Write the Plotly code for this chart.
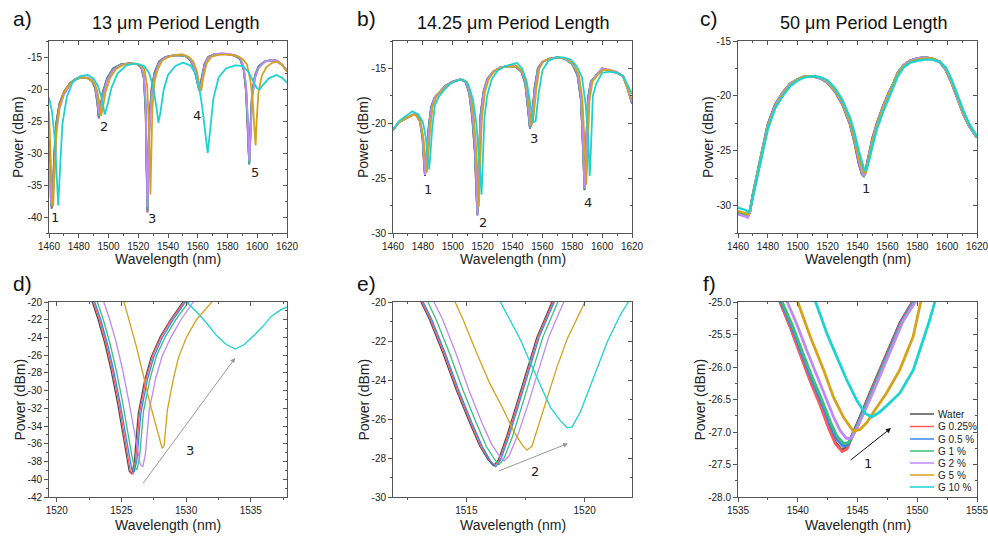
import plotly.graph_objects as go

# ---------------- series names / colours ----------------
SERIES = ["Water", "G 0.25%", "G 0.5 %", "G 1 %", "G 2 %", "G 5 %", "G 10 %"]
COLORS = ["#505050", "#ff5a5a", "#3d85f0", "#3cbf78", "#c08af5", "#d6a21c", "#1ed2d2"]

# ---------------- panel a : 13 um period ----------------
A_WL = [1460, 1461, 1461.8, 1462.6, 1463.5,
        1465, 1467, 1470, 1474, 1478,
        1482, 1486, 1489, 1491, 1492.5,
        1493.5, 1494.5, 1496, 1499, 1503,
        1508, 1514, 1519, 1522, 1523.8,
        1525, 1525.7, 1526.2, 1526.7, 1527.5,
        1529, 1531, 1534, 1538, 1543,
        1548, 1552, 1555, 1557.5, 1559.5,
        1561, 1562.5, 1564.5, 1567, 1571,
        1576, 1581, 1585, 1588.5, 1590.8,
        1592.5, 1593.7, 1594.6, 1595.5, 1596.5,
        1598.5, 1601, 1605, 1609, 1613,
        1617, 1620]
A_WATER = [-28.0, -35.0, -38.7, -36.0, -30.0,
           -25.0, -22.3, -20.4, -19.1, -18.4,
           -18.2, -18.3, -18.8, -19.9, -22.2,
           -24.6, -23.0, -20.6, -18.3, -16.8,
           -16.2, -16.0, -16.1, -16.6, -18.4,
           -24.0, -33.5, -39.3, -32.0, -24.5,
           -19.8, -17.4, -15.7, -15.0, -14.8,
           -14.7, -14.9, -15.5, -16.7, -18.9,
           -20.2, -18.4, -16.1, -15.0, -14.6,
           -14.5, -14.6, -14.8, -15.3, -16.9,
           -20.5, -27.0, -31.8, -25.5, -20.6,
           -17.8, -16.4, -15.7, -15.5, -15.6,
           -16.3, -17.2]
A_G025 = [-29.0, -35.5, -38.5, -36.3, -30.5,
          -25.3, -22.5, -20.5, -19.2, -18.4,
          -18.2, -18.3, -18.8, -19.8, -22.0,
          -24.5, -23.2, -20.8, -18.4, -16.9,
          -16.2, -16.0, -16.1, -16.6, -18.3,
          -23.6, -33.0, -39.2, -32.5, -24.8,
          -20.0, -17.5, -15.8, -15.0, -14.8,
          -14.7, -14.9, -15.5, -16.6, -18.8,
          -20.2, -18.6, -16.2, -15.0, -14.6,
          -14.5, -14.6, -14.8, -15.3, -16.8,
          -20.3, -26.6, -31.6, -26.0, -20.8,
          -17.9, -16.5, -15.7, -15.5, -15.6,
          -16.3, -17.2]
A_G05 = [-29.5, -35.8, -38.4, -36.6, -31.0,
         -25.6, -22.6, -20.6, -19.2, -18.4,
         -18.2, -18.3, -18.7, -19.7, -21.8,
         -24.4, -23.4, -21.0, -18.5, -16.9,
         -16.2, -16.0, -16.1, -16.5, -18.2,
         -23.2, -32.5, -39.0, -33.0, -25.2,
         -20.2, -17.6, -15.8, -15.0, -14.8,
         -14.7, -14.9, -15.5, -16.6, -18.7,
         -20.2, -18.7, -16.3, -15.1, -14.6,
         -14.5, -14.6, -14.8, -15.3, -16.7,
         -20.1, -26.2, -31.7, -26.4, -21.0,
         -18.0, -16.5, -15.7, -15.5, -15.6,
         -16.3, -17.2]
A_G1 = [-30.5, -36.3, -38.3, -37.0, -31.8,
        -26.0, -22.8, -20.7, -19.3, -18.5,
        -18.2, -18.3, -18.7, -19.6, -21.6,
        -24.2, -23.6, -21.2, -18.6, -17.0,
        -16.2, -16.0, -16.1, -16.5, -18.0,
        -22.8, -31.8, -38.8, -33.8, -25.8,
        -20.5, -17.8, -15.9, -15.1, -14.8,
        -14.7, -14.9, -15.4, -16.5, -18.6,
        -20.2, -18.9, -16.4, -15.1, -14.6,
        -14.5, -14.6, -14.8, -15.2, -16.6,
        -19.8, -25.6, -31.6, -27.0, -21.3,
        -18.1, -16.6, -15.7, -15.5, -15.6,
        -16.3, -17.2]
A_G2 = [-31.5, -36.8, -38.0, -37.5, -33.0,
        -26.8, -23.2, -20.9, -19.4, -18.5,
        -18.2, -18.2, -18.6, -19.4, -21.2,
        -23.8, -24.0, -21.6, -18.8, -17.1,
        -16.3, -16.0, -16.1, -16.4, -17.8,
        -22.0, -30.5, -38.4, -35.0, -27.0,
        -21.0, -18.1, -16.0, -15.1, -14.8,
        -14.6, -14.8, -15.3, -16.4, -18.4,
        -20.1, -19.2, -16.6, -15.2, -14.6,
        -14.4, -14.5, -14.7, -15.1, -16.4,
        -19.4, -24.8, -31.2, -27.8, -21.8,
        -18.3, -16.7, -15.8, -15.5, -15.5,
        -16.2, -17.2]
A_WL_G5 = [1460, 1461, 1462, 1462.8, 1463.7,
           1465, 1467, 1470, 1474, 1478,
           1482, 1486, 1490, 1492.5, 1494,
           1495, 1496, 1498, 1501, 1505,
           1510, 1516, 1521, 1524, 1526,
           1527.3, 1528.2, 1528.7, 1529.5, 1531,
           1533, 1536, 1540, 1545, 1550,
           1554, 1557, 1559.5, 1561, 1562.3,
           1563.7, 1566, 1569, 1573, 1578,
           1583, 1587, 1590.5, 1593, 1595.5,
           1597, 1598.2, 1598.9, 1599.6, 1600.8,
           1603, 1606, 1610, 1614, 1617,
           1620]
A_G5 = [-23.5, -30.0, -36.5, -38.3, -33.0,
        -26.5, -22.8, -20.5, -19.2, -18.5,
        -18.2, -18.3, -18.9, -20.3, -22.5,
        -24.2, -23.2, -20.5, -18.3, -16.9,
        -16.2, -16.0, -16.2, -16.8, -19.5,
        -27.0, -36.5, -30.0, -23.0, -18.8,
        -17.0, -15.6, -15.0, -14.7, -14.6,
        -15.0, -15.7, -17.3, -19.3, -20.3,
        -18.3, -16.0, -15.0, -14.7, -14.6,
        -14.7, -14.9, -15.4, -16.1, -18.8,
        -22.0, -26.5, -28.8, -25.0, -20.5,
        -18.0, -16.6, -15.9, -15.7, -16.3,
        -17.3]
A_WL_G10 = [1460, 1462, 1464, 1465.2, 1466.2,
            1467.3, 1469, 1472, 1476, 1481,
            1486, 1490, 1493, 1495.5, 1497.5,
            1499.5, 1502, 1506, 1512, 1518,
            1524, 1527.5, 1530, 1532, 1533.6,
            1535, 1537, 1540, 1545, 1550,
            1555, 1558.5, 1561, 1563, 1565,
            1566.7, 1568.3, 1570.5, 1574, 1579,
            1585, 1590, 1594, 1597, 1599.5,
            1601.5, 1604, 1608, 1613, 1617,
            1620]
A_G10 = [-21.3, -23.5, -28.0, -34.0, -38.2,
         -33.0, -25.5, -21.2, -18.9, -18.0,
         -17.8, -18.4, -19.6, -21.5, -24.0,
         -22.3, -19.8, -17.6, -16.3, -16.0,
         -16.4, -17.6, -19.7, -22.5, -25.3,
         -23.5, -20.2, -17.8, -16.4, -15.9,
         -16.3, -17.6, -19.8, -22.8, -27.0,
         -30.0, -26.5, -21.5, -18.2, -16.8,
         -16.3, -16.4, -17.3, -18.6, -19.8,
         -20.1, -19.3, -18.3, -17.8, -18.3,
         -19.0]

# ---------------- panel b : 14.25 um period ----------------
B_WL = [1460, 1464, 1468, 1472, 1475,
        1478, 1479.8, 1480.8, 1481.4, 1482.2,
        1483.5, 1485.5, 1488, 1491, 1495,
        1500, 1505, 1508.5, 1511, 1513,
        1514.8, 1515.8, 1516.5, 1517.3, 1518.5,
        1520.5, 1523, 1527, 1532, 1537,
        1542, 1546, 1548.5, 1550.3, 1551.7,
        1553, 1554.8, 1557, 1560, 1565,
        1570, 1575, 1580, 1583.5, 1585.8,
        1587.3, 1588.2, 1589.2, 1590.5, 1592.5,
        1596, 1600, 1605, 1610, 1614,
        1617, 1620]
B_WATER = [-20.6, -19.9, -19.6, -19.3, -19.1,
           -19.7, -21.3, -23.6, -24.8, -23.8,
           -21.0, -18.6, -17.6, -17.2, -16.6,
           -16.2, -16.0, -16.2, -17.2, -19.3,
           -22.5, -26.0, -28.4, -24.5, -19.5,
           -17.2, -16.0, -15.3, -14.9, -14.8,
           -14.8, -15.3, -16.3, -18.5, -20.5,
           -19.6, -16.8, -15.0, -14.4, -14.1,
           -14.0, -14.1, -14.6, -15.6, -17.8,
           -22.5, -26.1, -22.5, -17.8, -16.2,
           -15.6, -15.0, -15.2, -15.4, -15.7,
           -16.8, -18.2]
B_G025 = [-20.6, -19.9, -19.6, -19.3, -19.1,
          -19.8, -21.5, -23.9, -24.7, -23.5,
          -20.8, -18.5, -17.6, -17.2, -16.6,
          -16.2, -16.0, -16.2, -17.3, -19.5,
          -22.8, -26.5, -28.3, -24.0, -19.3,
          -17.1, -16.0, -15.3, -14.9, -14.8,
          -14.8, -15.3, -16.4, -18.7, -20.5,
          -19.4, -16.7, -15.0, -14.4, -14.1,
          -14.0, -14.1, -14.6, -15.6, -17.9,
          -22.8, -26.0, -22.2, -17.7, -16.2,
          -15.6, -15.0, -15.2, -15.4, -15.7,
          -16.8, -18.2]
B_G05 = [-20.6, -19.9, -19.6, -19.3, -19.1,
         -19.8, -21.4, -23.7, -24.7, -23.7,
         -20.9, -18.5, -17.6, -17.2, -16.6,
         -16.2, -16.0, -16.2, -17.2, -19.4,
         -22.6, -26.2, -28.3, -24.4, -19.4,
         -17.2, -16.0, -15.3, -14.9, -14.8,
         -14.8, -15.3, -16.4, -18.6, -20.5,
         -19.5, -16.8, -15.0, -14.4, -14.1,
         -14.0, -14.1, -14.6, -15.6, -17.8,
         -22.6, -26.0, -22.4, -17.8, -16.2,
         -15.6, -15.0, -15.2, -15.4, -15.7,
         -16.8, -18.2]
B_G1 = [-20.6, -19.9, -19.6, -19.3, -19.1,
        -19.8, -21.2, -23.4, -24.6, -24.0,
        -21.2, -18.7, -17.6, -17.2, -16.6,
        -16.2, -16.0, -16.2, -17.1, -19.1,
        -22.2, -25.6, -28.3, -25.0, -19.8,
        -17.3, -16.1, -15.3, -14.9, -14.8,
        -14.8, -15.2, -16.2, -18.3, -20.4,
        -19.8, -17.0, -15.1, -14.4, -14.1,
        -14.0, -14.1, -14.6, -15.5, -17.6,
        -22.2, -26.0, -22.9, -18.0, -16.3,
        -15.6, -15.0, -15.2, -15.4, -15.7,
        -16.8, -18.2]
B_G2 = [-20.6, -19.9, -19.6, -19.3, -19.1,
        -19.9, -21.0, -23.2, -24.7, -24.3,
        -21.5, -18.8, -17.6, -17.2, -16.6,
        -16.2, -16.0, -16.2, -17.0, -18.9,
        -21.8, -25.2, -28.4, -25.6, -20.2,
        -17.4, -16.1, -15.3, -14.9, -14.8,
        -14.7, -15.2, -16.1, -18.1, -20.2,
        -20.0, -17.3, -15.2, -14.4, -14.1,
        -14.0, -14.1, -14.5, -15.4, -17.3,
        -21.8, -25.9, -23.4, -18.3, -16.4,
        -15.6, -15.0, -15.1, -15.3, -15.7,
        -16.8, -18.1]
B_WL_G5 = [1460, 1464, 1468, 1472, 1475,
           1478.5, 1480.5, 1481.8, 1482.6, 1483.4,
           1484.7, 1486.5, 1489, 1492, 1496,
           1501, 1506, 1509.5, 1512, 1514,
           1515.8, 1516.8, 1517.5, 1518.3, 1519.5,
           1521.5, 1524, 1528, 1533, 1538,
           1543, 1547, 1549.5, 1551.3, 1552.8,
           1554.2, 1556, 1558, 1561, 1566,
           1571, 1576, 1581, 1584.5, 1586.8,
           1588.5, 1589.4, 1590.3, 1591.5, 1593.5,
           1597, 1601, 1606, 1610, 1614,
           1617, 1620]
B_G5 = [-20.6, -19.9, -19.6, -19.3, -19.2,
        -19.9, -21.5, -23.5, -24.5, -23.5,
        -20.8, -18.5, -17.6, -17.1, -16.6,
        -16.2, -16.0, -16.2, -17.2, -19.3,
        -22.5, -25.5, -27.6, -24.0, -19.6,
        -17.2, -16.0, -15.2, -14.9, -14.8,
        -14.8, -15.4, -16.5, -18.6, -20.2,
        -19.3, -16.8, -15.0, -14.3, -14.1,
        -14.0, -14.1, -14.6, -15.6, -17.8,
        -22.5, -25.6, -22.5, -18.0, -16.2,
        -15.6, -15.1, -15.2, -15.4, -15.7,
        -16.8, -17.9]
B_WL_G10 = [1460, 1464, 1468, 1473, 1477,
            1480, 1482, 1483.2, 1484, 1484.8,
            1486.2, 1488, 1490.5, 1494, 1498,
            1503, 1507, 1510.5, 1513.5, 1515.8,
            1517.6, 1518.6, 1519.3, 1520, 1521.2,
            1523, 1526, 1530, 1535, 1540,
            1543, 1546.5, 1549.5, 1552, 1554,
            1555.5, 1557.5, 1560, 1564, 1569,
            1574, 1579, 1583, 1586.5, 1589,
            1590.7, 1591.7, 1592.6, 1593.8, 1596,
            1600, 1605, 1610, 1614, 1617,
            1620]
B_G10 = [-20.6, -19.8, -19.4, -18.9, -19.2,
         -19.9, -21.3, -23.0, -24.2, -23.3,
         -20.5, -18.4, -17.6, -17.0, -16.4,
         -16.1, -16.0, -16.5, -17.8, -20.0,
         -22.8, -25.0, -26.5, -23.5, -19.5,
         -17.5, -16.0, -15.2, -14.8, -14.6,
         -14.5, -15.0, -16.2, -18.3, -19.9,
         -19.8, -17.3, -15.2, -14.3, -14.0,
         -14.0, -14.2, -14.8, -15.8, -18.3,
         -21.5, -24.8, -22.0, -17.5, -16.4,
         -15.4, -15.3, -15.4, -15.7, -16.5,
         -17.3]

# ---------------- panel c : 50 um period ----------------
C_WL = [1460, 1463, 1465, 1466.5, 1468,
        1470, 1473, 1476, 1480, 1485,
        1490, 1495, 1500, 1505, 1510,
        1515, 1520, 1525, 1530, 1535,
        1538, 1541, 1543, 1544.2, 1545.5,
        1547, 1550, 1553, 1557, 1561,
        1564, 1567, 1571, 1575, 1580,
        1585, 1590, 1595, 1599, 1603,
        1607, 1611, 1615, 1620]
C_WATER = [-30.7, -30.8, -30.9, -31.0, -30.5,
           -29.0, -27.0, -25.0, -22.6, -20.8,
           -19.7, -18.9, -18.5, -18.2, -18.2,
           -18.4, -18.8, -19.6, -20.8, -22.6,
           -24.2, -26.2, -27.1, -27.3, -26.8,
           -25.8, -23.9, -22.5, -21.0, -19.7,
           -18.9, -17.9, -17.2, -16.8, -16.6,
           -16.5, -16.6, -16.9, -17.6, -18.8,
           -20.3, -21.7, -22.8, -23.8]
C_G025 = [-30.7, -30.8, -30.9, -31.0, -30.5,
          -29.0, -27.0, -25.0, -22.6, -20.8,
          -19.7, -18.9, -18.5, -18.2, -18.2,
          -18.4, -18.8, -19.6, -20.8, -22.6,
          -24.2, -26.2, -27.1, -27.3, -26.8,
          -25.8, -23.9, -22.5, -21.0, -19.7,
          -18.9, -17.9, -17.2, -16.8, -16.6,
          -16.5, -16.6, -16.9, -17.6, -18.8,
          -20.3, -21.7, -22.8, -23.8]
C_G05 = [-30.7, -30.8, -30.9, -31.0, -30.5,
         -29.0, -27.0, -25.0, -22.6, -20.8,
         -19.7, -18.9, -18.5, -18.2, -18.2,
         -18.4, -18.8, -19.6, -20.8, -22.5,
         -24.1, -26.1, -27.1, -27.3, -26.9,
         -25.9, -24.0, -22.6, -21.0, -19.7,
         -18.9, -17.9, -17.2, -16.8, -16.6,
         -16.5, -16.6, -16.9, -17.6, -18.8,
         -20.3, -21.7, -22.8, -23.8]
C_G1 = [-30.7, -30.8, -30.9, -31.0, -30.5,
        -29.0, -27.0, -25.1, -22.7, -20.9,
        -19.7, -18.9, -18.5, -18.2, -18.2,
        -18.4, -18.8, -19.5, -20.7, -22.5,
        -24.0, -26.0, -27.0, -27.3, -26.9,
        -26.0, -24.1, -22.6, -21.1, -19.8,
        -18.9, -17.9, -17.2, -16.8, -16.6,
        -16.5, -16.6, -16.9, -17.6, -18.8,
        -20.3, -21.7, -22.8, -23.8]
C_G2 = [-30.8, -30.9, -31.0, -31.1, -30.6,
        -29.1, -27.1, -25.1, -22.7, -20.9,
        -19.7, -18.9, -18.5, -18.2, -18.2,
        -18.4, -18.8, -19.5, -20.7, -22.4,
        -23.9, -25.9, -26.9, -27.2, -27.0,
        -26.0, -24.1, -22.7, -21.1, -19.8,
        -19.0, -18.0, -17.2, -16.8, -16.6,
        -16.5, -16.6, -16.9, -17.6, -18.8,
        -20.2, -21.7, -22.8, -23.8]
C_G5 = [-30.5, -30.6, -30.7, -30.8, -30.5,
        -29.1, -27.2, -25.2, -22.8, -21.0,
        -19.8, -19.0, -18.5, -18.2, -18.2,
        -18.3, -18.7, -19.5, -20.6, -22.3,
        -23.8, -25.7, -26.6, -27.0, -27.0,
        -26.1, -24.2, -22.8, -21.2, -19.9,
        -19.0, -18.0, -17.3, -16.9, -16.7,
        -16.6, -16.6, -16.9, -17.5, -18.7,
        -20.1, -21.6, -22.7, -23.7]
C_G10 = [-30.2, -30.3, -30.4, -30.6, -30.4,
         -29.2, -27.4, -25.4, -23.0, -21.1,
         -20.0, -19.1, -18.6, -18.3, -18.2,
         -18.3, -18.6, -19.3, -20.4, -22.0,
         -23.4, -25.1, -26.0, -26.6, -26.8,
         -26.3, -24.6, -23.0, -21.5, -20.1,
         -19.2, -18.2, -17.4, -17.0, -16.8,
         -16.7, -16.7, -16.9, -17.4, -18.5,
         -19.9, -21.4, -22.6, -23.7]

# ---------------- panel d : zoom on dip 3 (13 um) ----------------
D_WL_WATER = [1522.6, 1523.2, 1523.7, 1524.2, 1524.7, 1525.05, 1525.4, 1525.6,
              1525.8, 1526.0, 1526.3, 1526.8, 1527.3, 1528.0, 1528.8, 1529.8]
D_WATER = [-19.4, -22.0, -24.6, -27.7, -31.4, -34.5, -37.5, -39.1,
           -39.4, -38.0, -32.6, -28.8, -26.2, -23.9, -22.0, -19.9]
D_WL_G025 = [1522.7, 1523.3, 1523.8, 1524.3, 1524.8, 1525.15, 1525.5, 1525.7,
             1525.9, 1526.1, 1526.4, 1526.9, 1527.4, 1528.1, 1528.9, 1529.9]
D_G025 = [-19.4, -22.0, -24.6, -27.7, -31.4, -34.5, -37.6, -39.2,
          -39.4, -37.9, -32.5, -28.7, -26.1, -23.8, -21.9, -19.9]
D_WL_G05 = [1522.8, 1523.4, 1523.9, 1524.4, 1524.9, 1525.25, 1525.6, 1525.8,
            1526.0, 1526.2, 1526.5, 1527.0, 1527.5, 1528.2, 1529.0, 1530.0]
D_G05 = [-19.4, -22.0, -24.6, -27.7, -31.4, -34.5, -37.5, -38.9,
         -39.1, -37.8, -32.6, -28.8, -26.2, -23.9, -22.0, -19.9]
D_WL_G1 = [1523.0, 1523.6, 1524.1, 1524.6, 1525.1, 1525.45, 1525.8, 1526.0,
           1526.2, 1526.4, 1526.7, 1527.2, 1527.7, 1528.4, 1529.2, 1530.3]
D_G1 = [-19.4, -22.0, -24.6, -27.7, -31.4, -34.4, -37.3, -38.6,
        -38.9, -37.5, -32.4, -28.7, -26.1, -23.9, -22.0, -19.8]
D_WL_G2 = [1523.5, 1524.1, 1524.6, 1525.1, 1525.6, 1525.95, 1526.25, 1526.45,
           1526.65, 1526.85, 1527.15, 1527.65, 1528.15, 1528.85, 1529.6, 1530.6]
D_G2 = [-19.4, -22.0, -24.6, -27.7, -31.4, -34.3, -37.0, -38.3,
        -38.6, -37.2, -32.2, -28.6, -26.1, -23.9, -22.0, -19.9]
D_WL_G5 = [1525.1, 1525.7, 1526.15, 1526.6, 1527.2, 1527.7, 1528.0, 1528.15,
           1528.3, 1528.4, 1528.55, 1529.0, 1529.4, 1530.05, 1530.8, 1532.1]
D_G5 = [-19.5, -22.5, -25.0, -27.7, -31.4, -34.1, -35.9, -36.5,
        -36.2, -34.8, -32.2, -28.8, -26.3, -23.9, -22.0, -19.8]
D_WL_G10 = [1529.9, 1530.3, 1530.8, 1531.6, 1532.3, 1533.1, 1533.8,
            1534.5, 1535.3, 1535.9, 1536.6, 1537.4, 1537.9]
D_G10 = [-19.7, -20.4, -21.1, -22.4, -23.7, -24.8, -25.3,
         -24.8, -23.7, -22.8, -21.6, -20.8, -20.5]

# ---------------- panel e : zoom on dip 2 (14.25 um) ----------------
E_WL_WATER = [1513.0, 1513.44, 1514.0, 1514.57, 1515.14, 1515.57, 1515.92,
              1516.14, 1516.35, 1516.7, 1517.13, 1517.56, 1517.98, 1518.65]
E_WATER = [-19.8, -20.9, -22.6, -24.5, -26.2, -27.4, -28.1,
           -28.4, -28.1, -26.9, -25.2, -23.5, -21.8, -19.9]
E_WL_G025 = [1513.05, 1513.49, 1514.05, 1514.62, 1515.19, 1515.62, 1515.97,
             1516.19, 1516.4, 1516.75, 1517.18, 1517.61, 1518.03, 1518.7]
E_G025 = [-19.8, -20.9, -22.6, -24.5, -26.2, -27.4, -28.1,
          -28.4, -28.1, -26.9, -25.2, -23.5, -21.8, -19.9]
E_WL_G05 = [1513.1, 1513.54, 1514.1, 1514.67, 1515.24, 1515.67, 1516.02,
            1516.24, 1516.45, 1516.8, 1517.23, 1517.66, 1518.08, 1518.75]
E_G05 = [-19.8, -20.9, -22.6, -24.5, -26.2, -27.4, -28.15,
         -28.45, -28.1, -26.9, -25.2, -23.5, -21.8, -19.9]
E_WL_G1 = [1513.3, 1513.72, 1514.28, 1514.85, 1515.42, 1515.84, 1516.18,
           1516.38, 1516.58, 1516.95, 1517.38, 1517.81, 1518.23, 1518.9]
E_G1 = [-19.8, -20.9, -22.6, -24.5, -26.2, -27.4, -28.05,
        -28.35, -28.05, -26.9, -25.2, -23.5, -21.8, -19.9]
E_WL_G2 = [1513.55, 1514.0, 1514.55, 1515.1, 1515.66, 1516.07, 1516.4,
           1516.6, 1516.8, 1517.18, 1517.62, 1518.05, 1518.48, 1519.15]
E_G2 = [-19.8, -20.9, -22.6, -24.5, -26.2, -27.3, -27.9,
        -28.15, -27.9, -26.8, -25.2, -23.5, -21.8, -19.9]
E_WL_G5 = [1514.45, 1514.86, 1515.43, 1516.0, 1516.56, 1516.99, 1517.34, 1517.56,
           1517.77, 1517.98, 1518.41, 1518.84, 1519.26, 1519.76, 1520.05]
E_G5 = [-19.8, -20.9, -22.6, -24.2, -25.5, -26.6, -27.3, -27.6,
        -27.4, -26.6, -24.9, -23.3, -21.9, -20.6, -19.9]
E_WL_G10 = [1516.35, 1516.85, 1517.27, 1517.7, 1518.13, 1518.55, 1518.98,
            1519.26, 1519.47, 1519.83, 1520.4, 1520.97, 1521.53, 1521.9]
E_G10 = [-19.8, -20.9, -21.9, -23.1, -24.3, -25.4, -26.1,
         -26.45, -26.4, -25.6, -23.8, -22.0, -20.6, -19.9]

# ---------------- panel f : zoom on dip 1 (50 um) ----------------
F_WL_WATER = [1538.4, 1539.37, 1540.2, 1541.04, 1541.87, 1542.57, 1543.12, 1543.68,
              1544.1, 1544.65, 1545.21, 1546.04, 1546.88, 1547.71, 1548.55, 1549.75]
F_WATER = [-24.95, -25.38, -25.79, -26.2, -26.56, -26.92, -27.15, -27.28,
           -27.24, -27.02, -26.77, -26.4, -26.04, -25.68, -25.32, -24.95]
F_WL_G025 = [1538.43, 1539.4, 1540.23, 1541.07, 1541.9, 1542.6, 1543.15, 1543.71,
             1544.13, 1544.68, 1545.24, 1546.07, 1546.91, 1547.74, 1548.58, 1549.78]
F_G025 = [-24.95, -25.4, -25.82, -26.23, -26.6, -26.95, -27.18, -27.3,
          -27.26, -27.03, -26.78, -26.41, -26.05, -25.69, -25.33, -24.95]
F_WL_G05 = [1538.5, 1539.47, 1540.3, 1541.14, 1541.97, 1542.67, 1543.22, 1543.78,
            1544.2, 1544.75, 1545.31, 1546.14, 1546.98, 1547.81, 1548.65, 1549.85]
F_G05 = [-24.95, -25.37, -25.78, -26.18, -26.54, -26.88, -27.1, -27.22,
         -27.2, -27.0, -26.76, -26.4, -26.04, -25.68, -25.32, -24.95]
F_WL_G1 = [1538.58, 1539.55, 1540.38, 1541.22, 1542.05, 1542.75, 1543.3, 1543.86,
           1544.28, 1544.83, 1545.39, 1546.22, 1547.06, 1547.89, 1548.73, 1549.93]
F_G1 = [-24.95, -25.36, -25.76, -26.16, -26.52, -26.85, -27.07, -27.18,
        -27.16, -26.97, -26.74, -26.39, -26.03, -25.67, -25.31, -24.95]
F_WL_G2 = [1539.0, 1539.9, 1540.7, 1541.5, 1542.3, 1543.0, 1543.55, 1544.08,
           1544.5, 1545.0, 1545.55, 1546.35, 1547.15, 1547.95, 1548.8, 1550.0]
F_G2 = [-24.95, -25.33, -25.72, -26.1, -26.45, -26.77, -26.98, -27.1,
        -27.09, -26.93, -26.71, -26.37, -26.02, -25.66, -25.3, -24.95]
F_WL_G5 = [1539.9, 1541.04, 1542.15, 1542.98, 1543.82, 1544.37, 1544.65,
           1545.21, 1545.8, 1546.32, 1547.43, 1548.55, 1549.66, 1550.35]
F_G5 = [-24.95, -25.53, -26.04, -26.46, -26.77, -26.92, -26.99,
        -26.96, -26.85, -26.7, -26.4, -26.04, -25.53, -24.95]
F_WL_G10 = [1541.4, 1542.43, 1543.26, 1544.1, 1544.93, 1545.63, 1546.18,
            1546.88, 1547.71, 1548.55, 1549.66, 1550.49, 1551.0, 1551.55]
F_G10 = [-24.95, -25.48, -25.84, -26.2, -26.51, -26.71, -26.77,
         -26.69, -26.55, -26.4, -26.05, -25.6, -25.3, -24.95]

# ---------------- ticks / labels ----------------
TOP_XTICKS = [1460, 1480, 1500, 1520, 1540, 1560, 1580, 1600, 1620]
A_YTICKS = [-40, -35, -30, -25, -20, -15]
B_YTICKS = [-30, -25, -20, -15]
C_YTICKS = [-30, -25, -20, -15]
D_XTICKS = [1520, 1525, 1530, 1535]
D_YTICKS = [-42, -40, -38, -36, -34, -32, -30, -28, -26, -24, -22, -20]
E_XTICKS = [1515, 1520]
E_YTICKS = [-30, -28, -26, -24, -22, -20]
F_XTICKS = [1535, 1540, 1545, 1550, 1555]
F_YTICKS = [-28.0, -27.5, -27.0, -26.5, -26.0, -25.5, -25.0]

PANEL_TITLES = ["13 \u03bcm Period Length", "14.25 \u03bcm Period Length", "50 \u03bcm Period Length"]
PANEL_LETTERS = ["a)", "b)", "c)", "d)", "e)", "f)"]
PEAK_LABELS_A = [("1", 1464, -40.0), ("2", 1497, -25.9), ("3", 1529.2, -40.2),
                 ("4", 1559.5, -24.1), ("5", 1598.5, -33.1)]
PEAK_LABELS_B = [("1", 1483.4, -26.0), ("2", 1520.2, -29.0), ("3", 1554.4, -21.4),
                 ("4", 1590.5, -27.2)]
PEAK_LABELS_C = [("1", 1545.7, -28.4)]

# ---------------- figure ----------------
W, H = 988, 538
AX = "#555555"
TXT = "#222222"
SANS = "Liberation Sans, Arial, sans-serif"


def px(x):
    return x / W


def py(y):
    return 1 - y / H


XDOM = [[px(49), px(287)], [px(393), px(632)], [px(738), px(977)]]
YDOM = [[py(233), py(41)], [py(497), py(302)]]

panels = [
    dict(xs=[A_WL, A_WL, A_WL, A_WL, A_WL, A_WL_G5, A_WL_G10],
         ys=[A_WATER, A_G025, A_G05, A_G1, A_G2, A_G5, A_G10],
         xr=[1460, 1620], yr=[-42.5, -12.5], xt=TOP_XTICKS, xm=10, yt=A_YTICKS, ym=2.5,
         fmt="{:.0f}", lw=1.8),
    dict(xs=[B_WL, B_WL, B_WL, B_WL, B_WL, B_WL_G5, B_WL_G10],
         ys=[B_WATER, B_G025, B_G05, B_G1, B_G2, B_G5, B_G10],
         xr=[1460, 1620], yr=[-30, -12.5], xt=TOP_XTICKS, xm=10, yt=B_YTICKS, ym=2.5,
         fmt="{:.0f}", lw=1.8),
    dict(xs=[C_WL] * 7,
         ys=[C_WATER, C_G025, C_G05, C_G1, C_G2, C_G5, C_G10],
         xr=[1460, 1620], yr=[-32.5, -15], xt=TOP_XTICKS, xm=10, yt=C_YTICKS, ym=2.5,
         fmt="{:.0f}", lw=2.4),
    dict(xs=[D_WL_WATER, D_WL_G025, D_WL_G05, D_WL_G1, D_WL_G2, D_WL_G5, D_WL_G10],
         ys=[D_WATER, D_G025, D_G05, D_G1, D_G2, D_G5, D_G10],
         xr=[1519.4, 1537.8], yr=[-42, -20], xt=D_XTICKS, xm=2.5, yt=D_YTICKS, ym=1,
         fmt="{:.0f}", lw=1.3),
    dict(xs=[E_WL_WATER, E_WL_G025, E_WL_G05, E_WL_G1, E_WL_G2, E_WL_G5, E_WL_G10],
         ys=[E_WATER, E_G025, E_G05, E_G1, E_G2, E_G5, E_G10],
         xr=[1511.9, 1522.0], yr=[-30, -20], xt=E_XTICKS, xm=2.5, yt=E_YTICKS, ym=1,
         fmt="{:.0f}", lw=1.3),
    dict(xs=[F_WL_WATER, F_WL_G025, F_WL_G05, F_WL_G1, F_WL_G2, F_WL_G5, F_WL_G10],
         ys=[F_WATER, F_G025, F_G05, F_G1, F_G2, F_G5, F_G10],
         xr=[1535, 1555], yr=[-28, -25], xt=F_XTICKS, xm=2.5, yt=F_YTICKS, ym=0.25,
         fmt="{:.1f}", lw=2.8),
]

fig = go.Figure()
layout = dict(width=W, height=H, margin=dict(l=0, r=0, t=0, b=0, autoexpand=False), autosize=False,
              paper_bgcolor="white", plot_bgcolor="white", showlegend=False,
              font=dict(family=SANS, color=TXT))
annotations = []
shapes = []

for i, p in enumerate(panels):
    n = i + 1
    row, col = divmod(i, 3)
    xd, yd = XDOM[col], YDOM[row]
    for k in range(7):
        fig.add_trace(go.Scatter(x=p["xs"][k], y=p["ys"][k], mode="lines", name=SERIES[k],
                                 line=dict(color=COLORS[k], width=p["lw"]),
                                 xaxis=f"x{n}", yaxis=f"y{n}", showlegend=False))
    common = dict(showline=True, linecolor=AX, linewidth=1, showgrid=False, zeroline=False,
                  tickcolor=AX, tickwidth=1, automargin=False)
    layout[f"xaxis{n}"] = dict(domain=xd, anchor=f"y{n}", range=p["xr"], tickmode="array",
                               tickvals=p["xt"], ticktext=[str(v) for v in p["xt"]],
                               ticks="outside", ticklen=4, ticklabeloverflow="allow",
                               tickfont=dict(family=SANS, size=10, color=TXT),
                               minor=dict(tickmode="linear", tick0=p["xt"][0], dtick=p["xm"],
                                          ticks="outside", ticklen=2, tickcolor=AX),
                               **common)
    layout[f"yaxis{n}"] = dict(domain=yd, anchor=f"x{n}", range=p["yr"], tickmode="array",
                               tickvals=p["yt"], ticktext=[p["fmt"].format(v) for v in p["yt"]],
                               ticks="outside", ticklen=4, ticklabeloverflow="allow",
                               tickfont=dict(family=SANS, size=10, color=TXT),
                               minor=dict(tickmode="linear", tick0=p["yt"][0], dtick=p["ym"],
                                          ticks="outside", ticklen=2, tickcolor=AX),
                               **common)
    # mirrored frame with inward ticks (top / right)
    layout[f"xaxis{n + 6}"] = dict(overlaying=f"x{n}", side="top", anchor=f"y{n}", range=p["xr"],
                                   tickmode="array", tickvals=p["xt"], ticks="inside", ticklen=4,
                                   showticklabels=False,
                                   minor=dict(tickmode="linear", tick0=p["xt"][0], dtick=p["xm"],
                                              ticks="inside", ticklen=2, tickcolor=AX),
                                   **common)
    layout[f"yaxis{n + 6}"] = dict(overlaying=f"y{n}", side="right", anchor=f"x{n}", range=p["yr"],
                                   tickmode="array", tickvals=p["yt"], ticks="inside", ticklen=4,
                                   showticklabels=False,
                                   minor=dict(tickmode="linear", tick0=p["yt"][0], dtick=p["ym"],
                                              ticks="inside", ticklen=2, tickcolor=AX),
                                   **common)
    fig.add_trace(go.Scatter(x=[], y=[], xaxis=f"x{n + 6}", yaxis=f"y{n}", showlegend=False,
                             hoverinfo="skip"))
    fig.add_trace(go.Scatter(x=[], y=[], xaxis=f"x{n}", yaxis=f"y{n + 6}", showlegend=False,
                             hoverinfo="skip"))

    # axis titles
    xc = (xd[0] + xd[1]) / 2
    ytitle_y = [259, 525][row]
    annotations.append(dict(text="Wavelength (nm)", x=xc, y=py(ytitle_y), xref="paper", yref="paper",
                            showarrow=False, xanchor="center", yanchor="middle",
                            font=dict(family=SANS, size=14, color=TXT)))
    ycen = [137, 399.5][row]
    xtitle_x = [[18, 363, 708], [19, 363, 699]][row][col]
    annotations.append(dict(text="Power (dBm)", x=px(xtitle_x), y=py(ycen), xref="paper", yref="paper",
                            showarrow=False, textangle=-90, xanchor="center", yanchor="middle",
                            font=dict(family=SANS, size=14, color=TXT)))
    # panel letter
    lx = [22, 366, 709][col]
    ly = [18, 283][row]
    annotations.append(dict(text=PANEL_LETTERS[i], x=px(lx), y=py(ly), xref="paper", yref="paper",
                            showarrow=False, xanchor="center", yanchor="middle",
                            font=dict(family=SANS, size=21, color="#111111")))

# titles of the top row
for col, t in enumerate(PANEL_TITLES):
    tx = [175, 513, 863][col]
    annotations.append(dict(text=t, x=px(tx), y=py(23), xref="paper", yref="paper", showarrow=False,
                            xanchor="center", yanchor="middle",
                            font=dict(family=SANS, size=18, color="#111111")))

# resonance numbers in top row
for n, labels in [(1, PEAK_LABELS_A), (2, PEAK_LABELS_B), (3, PEAK_LABELS_C)]:
    for txt, lx, ly in labels:
        annotations.append(dict(text=txt, x=lx, y=ly, xref=f"x{n}", yref=f"y{n}", showarrow=False,
                                font=dict(family="DejaVu Sans, sans-serif", size=13, color="#222222")))

# arrows and numbers in the zoomed panels
ARROWS = [(4, 1526.6, -40.6, 1533.8, -26.3, "#9a9a9a", "3", 1530.3, -36.7),
          (5, 1516.3, -28.7, 1519.3, -27.25, "#9a9a9a", "2", 1517.9, -28.7),
          (6, 1544.3, -27.45, 1547.8, -26.94, "#111111", "1", 1545.9, -27.48)]
for n, x0, y0, x1, y1, c, txt, tx, ty in ARROWS:
    annotations.append(dict(x=x1, y=y1, ax=x0, ay=y0, xref=f"x{n}", yref=f"y{n}",
                            axref=f"x{n}", ayref=f"y{n}", text="", showarrow=True,
                            arrowhead=2, arrowsize=1, arrowwidth=1, arrowcolor=c, standoff=0))
    annotations.append(dict(text=txt, x=tx, y=ty, xref=f"x{n}", yref=f"y{n}", showarrow=False,
                            font=dict(family="DejaVu Sans, sans-serif", size=13, color="#222222")))

# legend inside panel f (drawn as line samples + labels)
LEG_Y = [414, 426.5, 439, 451, 463, 475, 487]
for k, name in enumerate(SERIES):
    shapes.append(dict(type="line", xref="paper", yref="paper", x0=px(910), x1=px(934),
                       y0=py(LEG_Y[k]), y1=py(LEG_Y[k]), line=dict(color=COLORS[k], width=1.5)))
    annotations.append(dict(text=name, x=px(936), y=py(LEG_Y[k]), xref="paper", yref="paper",
                            showarrow=False, xanchor="left", yanchor="middle",
                            font=dict(family=SANS, size=10, color=TXT)))

layout["annotations"] = annotations
layout["shapes"] = shapes
fig.update_layout(**layout)
fig.write_html("out.html", config={"displayModeBar": False},
               post_script="document.body.style.margin='0px';document.body.style.padding='0px';"
                           "document.body.style.overflow='hidden';")
